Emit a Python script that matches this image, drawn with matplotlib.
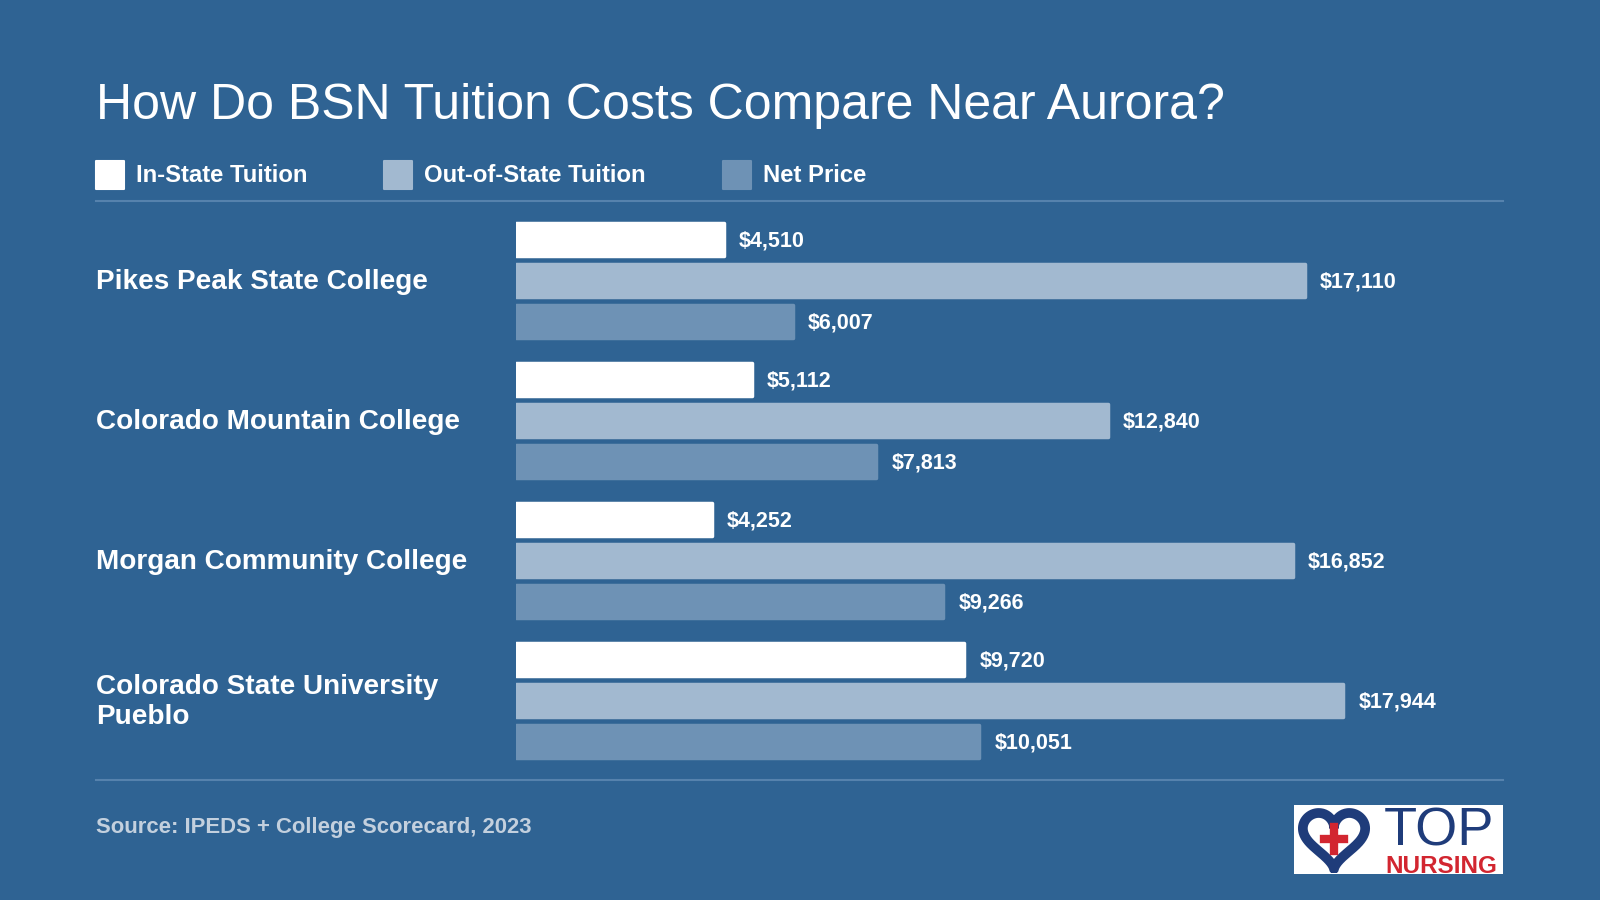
import numpy as np
import matplotlib
matplotlib.use("Agg")
import matplotlib.pyplot as plt
from matplotlib.patches import Rectangle

plt.rcParams['font.family'] = ['Liberation Sans', 'DejaVu Sans']

# data
schools = ['Pikes Peak State College', 'Colorado Mountain College',
           'Morgan Community College', 'Colorado State University\nPueblo']
in_state = [4510, 5112, 4252, 9720]
out_state = [17110, 12840, 16852, 17944]
net_price = [6007, 7813, 9266, 10051]
series_names = ['In-State Tuition', 'Out-of-State Tuition', 'Net Price']

BG = '#2F6393'
colors = ['#FFFFFF', '#A2B9D0', '#6E92B5']
LINE = '#5682AD'

W, H = 1600, 900
fig = plt.figure(figsize=(16, 9), dpi=100, facecolor=BG)

def fx(px):
    return px / W

def fy(py):
    return 1 - py / H

# title + legend
fig.text(fx(96), fy(106), 'How Do BSN Tuition Costs Compare Near Aurora?',
         color='white', fontsize=36, va='center', ha='left')

leg_x = [96, 384, 723]
for x, name, c in zip(leg_x, series_names, colors):
    fig.patches.append(Rectangle((fx(x), fy(189)), fx(28), 28 / H, transform=fig.transFigure,
                                 facecolor=c, edgecolor=c, lw=1.5, joinstyle='round'))
    fig.text(fx(x + 40), fy(176), name, color='white', fontsize=17.2, fontweight='bold',
             va='center', ha='left')

for y in (201, 780):
    fig.add_artist(plt.Line2D([fx(96), fx(1503)], [fy(y), fy(y)], color=LINE, lw=1.5,
                              transform=fig.transFigure))

# bars
ax = fig.add_axes([fx(516), fy(770), fx(987), 560 / H])
ax.set_facecolor('none')
px_per_dollar = (1305 - 516) / 17110
ax.set_xlim(0, 987 / px_per_dollar)
ax.set_ylim(3.5, -0.5)
ax.axis('off')

pos = np.arange(len(schools))
step = 41 / 140
h = 33 / 140
for k, (vals, c) in enumerate(zip([in_state, out_state, net_price], colors)):
    yy = pos + (k - 1) * step
    bars = ax.barh(yy, vals, height=h, color=c, edgecolor=c, linewidth=2.5)
    for b in bars:
        b.set_joinstyle('round')
    for y, v in zip(yy, vals):
        ax.annotate(f'${v:,}', (v, y), xytext=(15, -2), textcoords='offset pixels',
                    color='white', fontsize=15.5, fontweight='bold', va='center', ha='left')

for i, s in enumerate(schools):
    ax.annotate(s, (0, i), xycoords=('figure fraction', 'data'),
                xytext=(96, -2), textcoords='offset pixels',
                color='white', fontsize=20.1, fontweight='bold', va='center', ha='left',
                linespacing=1.2)

# footer
fig.text(fx(96), fy(828), 'Source: IPEDS + College Scorecard, 2023', color='#C3D0DE',
         fontsize=15.9, fontweight='bold', va='center', ha='left')

# logo
fig.patches.append(Rectangle((fx(1294), fy(874)), fx(209), 69 / H, transform=fig.transFigure,
                             facecolor='white', edgecolor='none'))
lax = fig.add_axes([fx(1297), fy(873), fx(74), 66 / H])
lax.set_zorder(5)
lax.set_facecolor('none')
lax.axis('off')
t = np.linspace(0, 2 * np.pi, 300)
hx = 16 * np.sin(t) ** 3
hy = 13 * np.cos(t) - 5 * np.cos(2 * t) - 2 * np.cos(3 * t) - np.cos(4 * t)
lax.plot(hx, hy, color='#1F3C7A', lw=7, solid_capstyle='round')
lax.plot([-5, 5], [-1.5, -1.5], color='#D22630', lw=6)
lax.plot([0, 0], [-7.5, 4.5], color='#D22630', lw=6)
lax.set_xlim(-19, 19)
lax.set_ylim(-19, 15)
fig.text(fx(1384), fy(846), 'TOP', color='#1F3C7A', fontsize=39, va='baseline', ha='left',
         zorder=6)
fig.text(fx(1385), fy(873), 'NURSING', color='#D22630', fontsize=17.5, fontweight='bold',
         va='baseline', ha='left', zorder=6)

fig.savefig('out.png', dpi=100, facecolor=BG)
